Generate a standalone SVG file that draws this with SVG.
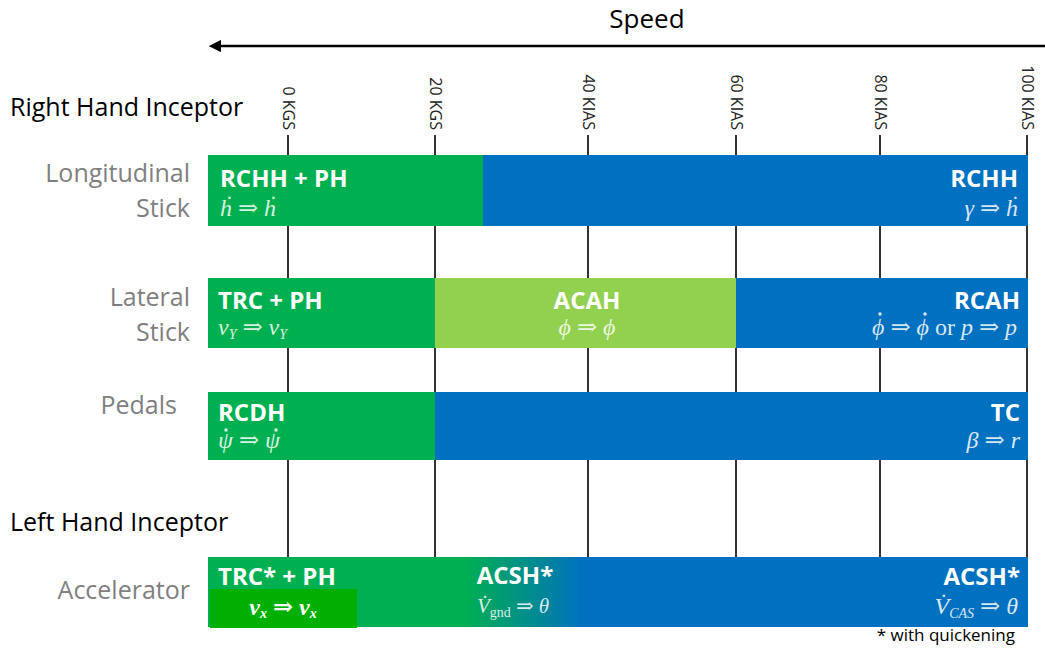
<svg xmlns="http://www.w3.org/2000/svg" width="1045" height="648" viewBox="0 0 1045 648">
  <defs>
    <style>
      .lbl { font-family: "Open Sans", "Liberation Sans", sans-serif; font-size: 25px; }
      .head { fill: #000; }
      .axis { fill: #7f7f7f; text-anchor: end; }
      .tick { font-family: "Open Sans", "Liberation Sans", sans-serif; font-size: 16px; fill: #222; text-anchor: end; }
      .mode { font-family: "Open Sans", "Liberation Sans", sans-serif; font-size: 24px; font-weight: bold; fill: #fff; }
      .math { font-family: "Liberation Serif", "DejaVu Serif", serif; font-size: 24px; font-style: italic; fill: #fff; fill-opacity: 0.85; }
      .dot { fill: #fff; fill-opacity: 0.85; }
      .sub { font-size: 14px; }
      .grid { stroke: #000; stroke-width: 1.6; }
      .green { fill: #00B050; }
      .blue { fill: #0070C0; }
      .lgreen { fill: #92D050; }
    </style>
    <marker id="arrowhead" viewBox="0 0 10 10" refX="1" refY="5" markerWidth="5" markerHeight="5" orient="auto-start-reverse">
      <path d="M0,0 L10,5 L0,10 z" fill="#000"/>
    </marker>
    <linearGradient id="accelGrad" x1="208" y1="0" x2="1028" y2="0" gradientUnits="userSpaceOnUse">
      <stop offset="0" stop-color="#00B050"/>
      <stop offset="0.31" stop-color="#00B050"/>
      <stop offset="0.46" stop-color="#0070C0"/>
      <stop offset="1" stop-color="#0070C0"/>
    </linearGradient>
  </defs>

  <!-- speed axis title -->
  <g id="speed-axis">
    <text x="647" y="28" class="lbl" style="font-size:26px" text-anchor="middle">Speed</text>
  </g>

  <!-- connectors: speed arrow and vertical grid lines -->
  <g id="connectors">
    <line x1="1045" y1="46" x2="220" y2="46" stroke="#000" stroke-width="2.5" marker-end="url(#arrowhead)"/>
    <line class="grid" x1="288" y1="135" x2="288" y2="557"/>
    <line class="grid" x1="435" y1="135" x2="435" y2="557"/>
    <line class="grid" x1="588" y1="135" x2="588" y2="557"/>
    <line class="grid" x1="736" y1="135" x2="736" y2="557"/>
    <line class="grid" x1="880" y1="135" x2="880" y2="557"/>
    <line class="grid" x1="1027" y1="135" x2="1027" y2="557"/>
  </g>

  <!-- speed tick labels -->
  <g id="ticks">
    <text class="tick" transform="translate(283,130) rotate(90)">0 KGS</text>
    <text class="tick" transform="translate(430,130) rotate(90)">20 KGS</text>
    <text class="tick" transform="translate(583,130) rotate(90)">40 KIAS</text>
    <text class="tick" transform="translate(731,130) rotate(90)">60 KIAS</text>
    <text class="tick" transform="translate(875,130) rotate(90)">80 KIAS</text>
    <text class="tick" transform="translate(1022,130) rotate(90)">100 KIAS</text>
  </g>

  <!-- row headings -->
  <g id="headings">
    <text x="10" y="116" class="lbl head">Right Hand Inceptor</text>
    <text x="10" y="531" class="lbl head">Left Hand Inceptor</text>
    <text x="190" y="182" class="lbl axis">Longitudinal</text>
    <text x="190" y="217" class="lbl axis">Stick</text>
    <text x="190" y="306" class="lbl axis">Lateral</text>
    <text x="190" y="341" class="lbl axis">Stick</text>
    <text x="177" y="414" class="lbl axis">Pedals</text>
    <text x="190" y="599" class="lbl axis">Accelerator</text>
  </g>

  <!-- longitudinal stick -->
  <g id="row-longitudinal">
    <rect class="green" x="208" y="155" width="276" height="71"/>
    <rect class="blue" x="483" y="155" width="545" height="71"/>
    <text x="220" y="187" class="mode">RCHH + PH</text>
    <text x="220" y="216" class="math">h&#x307; &#x21D2; h&#x307;</text>
    <text x="1018" y="187" class="mode" text-anchor="end">RCHH</text>
    <text x="1018" y="216" class="math" text-anchor="end">&#x3B3; &#x21D2; h&#x307;</text>
  </g>

  <!-- lateral stick -->
  <g id="row-lateral">
    <rect class="green" x="208" y="278" width="228" height="70"/>
    <rect class="lgreen" x="435" y="278" width="302" height="70"/>
    <rect class="blue" x="736" y="278" width="292" height="70"/>
    <text x="218" y="309" class="mode">TRC + PH</text>
    <text x="218" y="335" class="math">v<tspan class="sub" dy="4">Y</tspan><tspan dy="-4"> &#x21D2; v</tspan><tspan class="sub" dy="4">Y</tspan></text>
    <text x="587" y="309" class="mode" text-anchor="middle">ACAH</text>
    <text x="587" y="335" class="math" text-anchor="middle">&#x3D5; &#x21D2; &#x3D5;</text>
    <text x="1020" y="309" class="mode" text-anchor="end">RCAH</text>
    <text x="872" y="335" class="math">&#x3D5; &#x21D2; &#x3D5; <tspan font-style="normal">or</tspan> p &#x21D2; p</text>
    <!-- time-derivative dots over phi -->
    <circle class="dot" cx="880" cy="314" r="1.7"/>
    <circle class="dot" cx="925" cy="314" r="1.7"/>
  </g>

  <!-- pedals -->
  <g id="row-pedals">
    <rect class="green" x="208" y="392" width="228" height="68"/>
    <rect class="blue" x="435" y="392" width="593" height="68"/>
    <text x="218" y="421" class="mode">RCDH</text>
    <text x="218" y="448" class="math">&#x3C8; &#x21D2; &#x3C8;</text>
    <!-- time-derivative dots over psi -->
    <circle class="dot" cx="226" cy="430" r="1.7"/>
    <circle class="dot" cx="276" cy="430" r="1.7"/>
    <text x="1020" y="421" class="mode" text-anchor="end">TC</text>
    <text x="1020" y="448" class="math" text-anchor="end">&#x3B2; &#x21D2; r</text>
  </g>

  <!-- accelerator -->
  <g id="row-accelerator">
    <rect x="208" y="557" width="820" height="70" fill="url(#accelGrad)"/>
    <rect x="210" y="589" width="147" height="39" fill="#00B000"/>
    <text x="218" y="585" class="mode">TRC* + PH</text>
    <text x="283" y="615" class="math" text-anchor="middle" font-weight="bold" style="fill-opacity:1">v<tspan class="sub" dy="3">x</tspan><tspan dy="-3"> &#x21D2; v</tspan><tspan class="sub" dy="3">x</tspan></text>
    <text x="515" y="584" class="mode" text-anchor="middle">ACSH*</text>
    <text x="513" y="613" class="math" text-anchor="middle" style="font-size:21px">V&#x307;<tspan class="sub" dy="4" font-style="normal">gnd</tspan><tspan dy="-4"> &#x21D2; &#x3B8;</tspan></text>
    <text x="1020" y="585" class="mode" text-anchor="end">ACSH*</text>
    <text x="1018" y="614" class="math" text-anchor="end">V&#x307;<tspan class="sub" dy="4">CAS</tspan><tspan dy="-4"> &#x21D2; &#x3B8;</tspan></text>
    <text x="1015" y="641" font-family="Open Sans, Liberation Sans, sans-serif" font-size="17" fill="#000" text-anchor="end">* with quickening</text>
  </g>
</svg>
